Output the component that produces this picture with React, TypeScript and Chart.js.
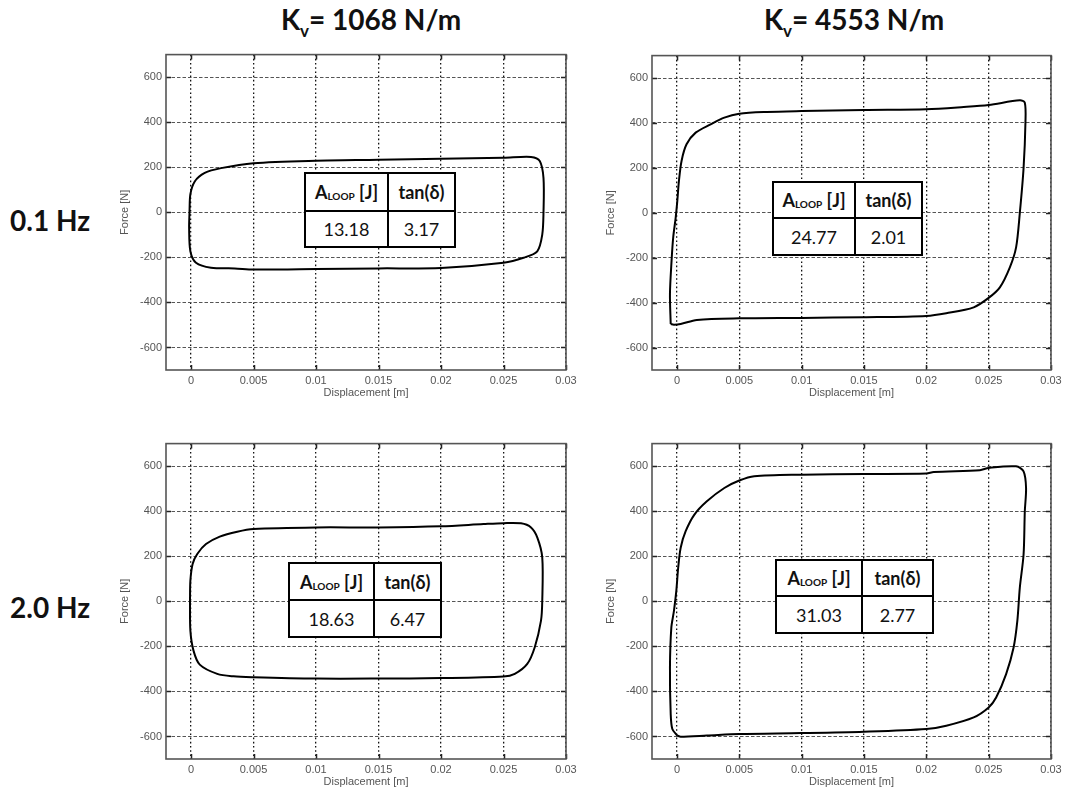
import React, { useEffect, useRef } from "react";
import { Chart, registerables } from "chart.js";

Chart.register(...registerables);

// ---------- data ----------
const X_TICKS = [0, 0.005, 0.01, 0.015, 0.02, 0.025, 0.03];
const X_TICK_LABELS = ["0", "0.005", "0.01", "0.015", "0.02", "0.025", "0.03"];
const Y_TICKS = [-600, -400, -200, 0, 200, 400, 600];
const X_MIN = -0.002;
const X_MAX = 0.03;
const Y_MIN = -700;
const Y_MAX = 700;

const STIFFNESS_LABELS = ["1068 N/m", "4553 N/m"];
const FREQUENCY_LABELS = ["0.1 Hz", "2.0 Hz"];
// order: 0.1Hz/1068, 0.1Hz/4553, 2.0Hz/1068, 2.0Hz/4553
const A_LOOP_VALUES = ["13.18", "24.77", "18.63", "31.03"];
const TAN_DELTA_VALUES = ["3.17", "2.01", "6.47", "2.77"];

// 0.1 Hz, Kv = 1068 N/m
const LOOP_A_X = [-0.00012, -0.00005, 0.0003, 0.0011, 0.0024, 0.005, 0.01, 0.015, 0.02, 0.025, 0.0272, 0.0279, 0.0282, 0.0282, 0.0281, 0.0277, 0.0266, 0.025, 0.02, 0.015, 0.01, 0.005, 0.0035, 0.0016, 0.0004, -0.00005, -0.00015, -0.00012];
const LOOP_A_Y = [0, 80, 137, 175, 196, 218, 229, 233, 238, 242, 246, 228, 152, 0, -99, -173, -202, -224, -247, -249, -252, -254, -249, -246, -224, -173, -69, 0];

// 0.1 Hz, Kv = 4553 N/m
const LOOP_B_X = [-0.0005, -0.00056, -0.00043, -0.0003, -0.0001, 0.00003, 0.00016, 0.00037, 0.00077, 0.0015, 0.0027, 0.0038, 0.005, 0.0072, 0.01, 0.015, 0.02, 0.023, 0.025, 0.0275, 0.0279, 0.02795, 0.0278, 0.0275, 0.0272, 0.0267, 0.0259, 0.025, 0.0238, 0.0216, 0.02, 0.015, 0.01, 0.005, 0.0016, 0.0003, -0.00024, -0.0005];
const LOOP_B_Y = [-495, -361, -213, -110, -21, 53, 142, 231, 305, 357, 394, 424, 441, 449, 453, 458, 461, 471, 480, 501, 490, 401, 199, 0, -154, -243, -332, -379, -421, -447, -459, -465, -468, -470, -477, -495, -498, -495];

// 2.0 Hz, Kv = 1068 N/m
const LOOP_C_X = [-0.00008, -0.00005, 0.00013, 0.0005, 0.0012, 0.0023, 0.0037, 0.005, 0.01, 0.015, 0.02, 0.0234, 0.025, 0.0264, 0.0272, 0.0277, 0.0281, 0.0281, 0.028, 0.0275, 0.0269, 0.0259, 0.025, 0.02, 0.015, 0.01, 0.005, 0.0034, 0.0021, 0.0007, 0.0002, -0.00005, -0.00008];
const LOOP_C_Y = [0, 92, 166, 210, 254, 287, 309, 321, 328, 328, 333, 343, 347, 346, 328, 284, 195, 0, -86, -204, -278, -322, -334, -341, -343, -343, -337, -333, -322, -281, -219, -130, 0];

// 2.0 Hz, Kv = 4553 N/m
const LOOP_D_X = [0.00003, -0.00037, -0.0005, -0.00056, -0.00045, -0.00024, -0.00005, 0.0001, 0.0003, 0.0007, 0.0014, 0.0024, 0.0038, 0.005, 0.0062, 0.01, 0.015, 0.02, 0.0206, 0.0243, 0.025, 0.0272, 0.0278, 0.028, 0.0279, 0.0278, 0.0275, 0.0273, 0.027, 0.0264, 0.0256, 0.025, 0.0238, 0.0216, 0.02, 0.015, 0.01, 0.005, 0.0024, 0.0003, 0.00003];
const LOOP_D_Y = [-596, -567, -500, -294, -117, -43, 46, 149, 238, 311, 385, 444, 503, 536, 555, 562, 565, 567, 574, 582, 592, 599, 577, 503, 400, 208, 61, -87, -205, -323, -427, -471, -515, -552, -567, -579, -585, -589, -596, -601, -596];

// ---------- layout (positions, not data) ----------
type Rect = { l: number; t: number; r: number; b: number };
type TableBox = { x0: number; x1: number; x2: number; y0: number; y1: number; y2: number };

const PANELS: { xs: number[]; ys: number[]; rect: Rect; table: TableBox; idx: number }[] = [
  { xs: LOOP_A_X, ys: LOOP_A_Y, rect: { l: 166, t: 54, r: 566, b: 370 }, table: { x0: 305, x1: 388, x2: 455, y0: 173, y1: 211, y2: 247 }, idx: 0 },
  { xs: LOOP_B_X, ys: LOOP_B_Y, rect: { l: 652, t: 55, r: 1051, b: 370 }, table: { x0: 773, x1: 855, x2: 922, y0: 182, y1: 218, y2: 255 }, idx: 1 },
  { xs: LOOP_C_X, ys: LOOP_C_Y, rect: { l: 166, t: 443, r: 566, b: 759 }, table: { x0: 289, x1: 374, x2: 441, y0: 563, y1: 600, y2: 637 }, idx: 2 },
  { xs: LOOP_D_X, ys: LOOP_D_Y, rect: { l: 652, t: 443, r: 1051, b: 759 }, table: { x0: 776, x1: 862, x2: 933, y0: 560, y1: 596, y2: 633 }, idx: 3 },
];

const Y_AXIS_W = 55;
const X_AXIS_H = 30;
const PAD_TOP = 10;
const PAD_RIGHT = 20;

const TICK_FONT = { family: "'Liberation Sans', Arial, sans-serif", size: 11 };

const framePlugin = {
  id: "frame",
  beforeDatasetsDraw(chart: any) {
    const { ctx, chartArea: a, scales } = chart;
    ctx.save();
    ctx.setLineDash([]);
    ctx.strokeStyle = "#222";
    ctx.lineWidth = 1.5;
    ctx.beginPath();
    X_TICKS.forEach((v) => {
      const px = Math.round(scales.x.getPixelForValue(v)) + 0.5;
      ctx.moveTo(px, a.bottom);
      ctx.lineTo(px, a.bottom - 5);
      ctx.moveTo(px, a.top);
      ctx.lineTo(px, a.top + 5);
    });
    Y_TICKS.forEach((v) => {
      const py = Math.round(scales.y.getPixelForValue(v)) + 0.5;
      ctx.moveTo(a.left, py);
      ctx.lineTo(a.left + 5, py);
      ctx.moveTo(a.right, py);
      ctx.lineTo(a.right - 5, py);
    });
    ctx.stroke();
    ctx.strokeStyle = "#555";
    ctx.lineWidth = 1.6;
    ctx.strokeRect(a.left, a.top, a.right - a.left, a.bottom - a.top);
    ctx.restore();
  },
};

function LoopPanel({ xs, ys, rect }: { xs: number[]; ys: number[]; rect: Rect }) {
  const ref = useRef<HTMLCanvasElement>(null);
  const w = rect.r - rect.l + Y_AXIS_W + PAD_RIGHT;
  const h = rect.b - rect.t + PAD_TOP + X_AXIS_H;

  useEffect(() => {
    if (!ref.current) return;
    const data = xs.map((x, i) => ({ x, y: ys[i] }));
    const chart = new Chart(ref.current, {
      type: "scatter",
      data: {
        datasets: [
          {
            data,
            showLine: true,
            borderColor: "#000",
            borderWidth: 2,
            pointRadius: 0,
            tension: 0.3,
            fill: false,
          } as any,
        ],
      },
      options: {
        animation: false,
        responsive: false,
        devicePixelRatio: 1,
        layout: { padding: { left: 0, top: PAD_TOP, right: PAD_RIGHT, bottom: 0 } },
        plugins: { legend: { display: false }, tooltip: { enabled: false } },
        scales: {
          x: {
            type: "linear",
            min: X_MIN,
            max: X_MAX,
            afterBuildTicks: (s: any) => {
              s.ticks = X_TICKS.map((v) => ({ value: v }));
            },
            afterFit: (s: any) => {
              s.height = X_AXIS_H;
            },
            ticks: {
              padding: 4,
              color: "#555",
              font: TICK_FONT,
              maxRotation: 0,
              autoSkip: false,
              callback: (_v: any, i: number) => X_TICK_LABELS[i],
            },
            grid: { color: "#111", lineWidth: 1.3, drawTicks: false },
            border: { display: false, dash: [1.6, 2.6] },
            title: {
              display: true,
              text: "Displacement [m]",
              color: "#555",
              font: TICK_FONT,
              padding: { top: 0, bottom: 0.4 },
            },
          },
          y: {
            type: "linear",
            min: Y_MIN,
            max: Y_MAX,
            afterBuildTicks: (s: any) => {
              s.ticks = Y_TICKS.map((v) => ({ value: v }));
            },
            afterFit: (s: any) => {
              s.width = Y_AXIS_W;
            },
            ticks: {
              padding: 4,
              color: "#555",
              font: TICK_FONT,
              autoSkip: false,
              callback: (v: any) => String(v),
            },
            grid: { color: "#555", lineWidth: 1, drawTicks: false },
            border: { display: false, dash: [3.5, 2] },
            title: {
              display: true,
              text: "Force [N]",
              color: "#555",
              font: TICK_FONT,
              padding: { top: 7.4, bottom: 0 },
            },
          },
        },
      },
      plugins: [framePlugin],
    });
    return () => chart.destroy();
  }, [xs, ys, rect]);

  return (
    <canvas
      ref={ref}
      width={w}
      height={h}
      style={{ position: "absolute", left: rect.l - Y_AXIS_W, top: rect.t - PAD_TOP, width: w, height: h }}
    />
  );
}

const TABLE_FONT = "Lato, 'Open Sans', sans-serif";

function ResultTable({ box, idx }: { box: TableBox; idx: number }) {
  const cell: React.CSSProperties = {
    background: "#fff",
    display: "flex",
    alignItems: "center",
    justifyContent: "center",
    color: "#111",
    fontFamily: TABLE_FONT,
    fontSize: 18,
    lineHeight: 1,
    whiteSpace: "nowrap",
  };
  return (
    <div
      style={{
        position: "absolute",
        left: box.x0 - 1,
        top: box.y0 - 1,
        width: box.x2 - box.x0 + 2,
        height: box.y2 - box.y0 + 2,
        boxSizing: "border-box",
        border: "2px solid #000",
        background: "#000",
        display: "grid",
        gridTemplateColumns: `${box.x1 - box.x0 - 2}px 1fr`,
        gridTemplateRows: `${box.y1 - box.y0 - 2}px 1fr`,
        gap: 2,
      }}
    >
      <div style={{ ...cell, fontWeight: 700 }}>
        <span>A</span>
        <span style={{ fontSize: 10, position: "relative", top: 4 }}>LOOP</span>
        <span>&nbsp;[J]</span>
      </div>
      <div style={{ ...cell, fontWeight: 700 }}>tan(δ)</div>
      <div style={cell}>{A_LOOP_VALUES[idx]}</div>
      <div style={cell}>{TAN_DELTA_VALUES[idx]}</div>
    </div>
  );
}

const HEAD_FONT = "Lato, 'Open Sans', sans-serif";

function ColumnTitle({ cx, label }: { cx: number; label: string }) {
  return (
    <div
      style={{
        position: "absolute",
        left: cx - 150,
        width: 300,
        top: 5,
        height: 34,
        textAlign: "center",
        fontFamily: HEAD_FONT,
        fontWeight: 700,
        fontSize: 28,
        lineHeight: "28px",
        color: "#111",
        whiteSpace: "nowrap",
      }}
    >
      K<span style={{ fontSize: 17, position: "relative", top: 7 }}>v</span>= {label}
    </div>
  );
}

function RowLabel({ cy, label }: { cy: number; label: string }) {
  return (
    <div
      style={{
        position: "absolute",
        left: 10,
        top: cy - 14,
        height: 28,
        fontFamily: HEAD_FONT,
        fontWeight: 700,
        fontSize: 28,
        lineHeight: "28px",
        color: "#111",
        whiteSpace: "nowrap",
      }}
    >
      {label}
    </div>
  );
}

export default function App() {
  return (
    <div
      style={{
        position: "absolute",
        left: 0,
        top: 0,
        width: 1067,
        height: 793,
        background: "#fff",
        overflow: "hidden",
      }}
    >
      <ColumnTitle cx={371} label={STIFFNESS_LABELS[0]} />
      <ColumnTitle cx={854} label={STIFFNESS_LABELS[1]} />
      <RowLabel cy={220} label={FREQUENCY_LABELS[0]} />
      <RowLabel cy={607} label={FREQUENCY_LABELS[1]} />
      {PANELS.map((p) => (
        <LoopPanel key={"c" + p.idx} xs={p.xs} ys={p.ys} rect={p.rect} />
      ))}
      {PANELS.map((p) => (
        <ResultTable key={"t" + p.idx} box={p.table} idx={p.idx} />
      ))}
    </div>
  );
}
